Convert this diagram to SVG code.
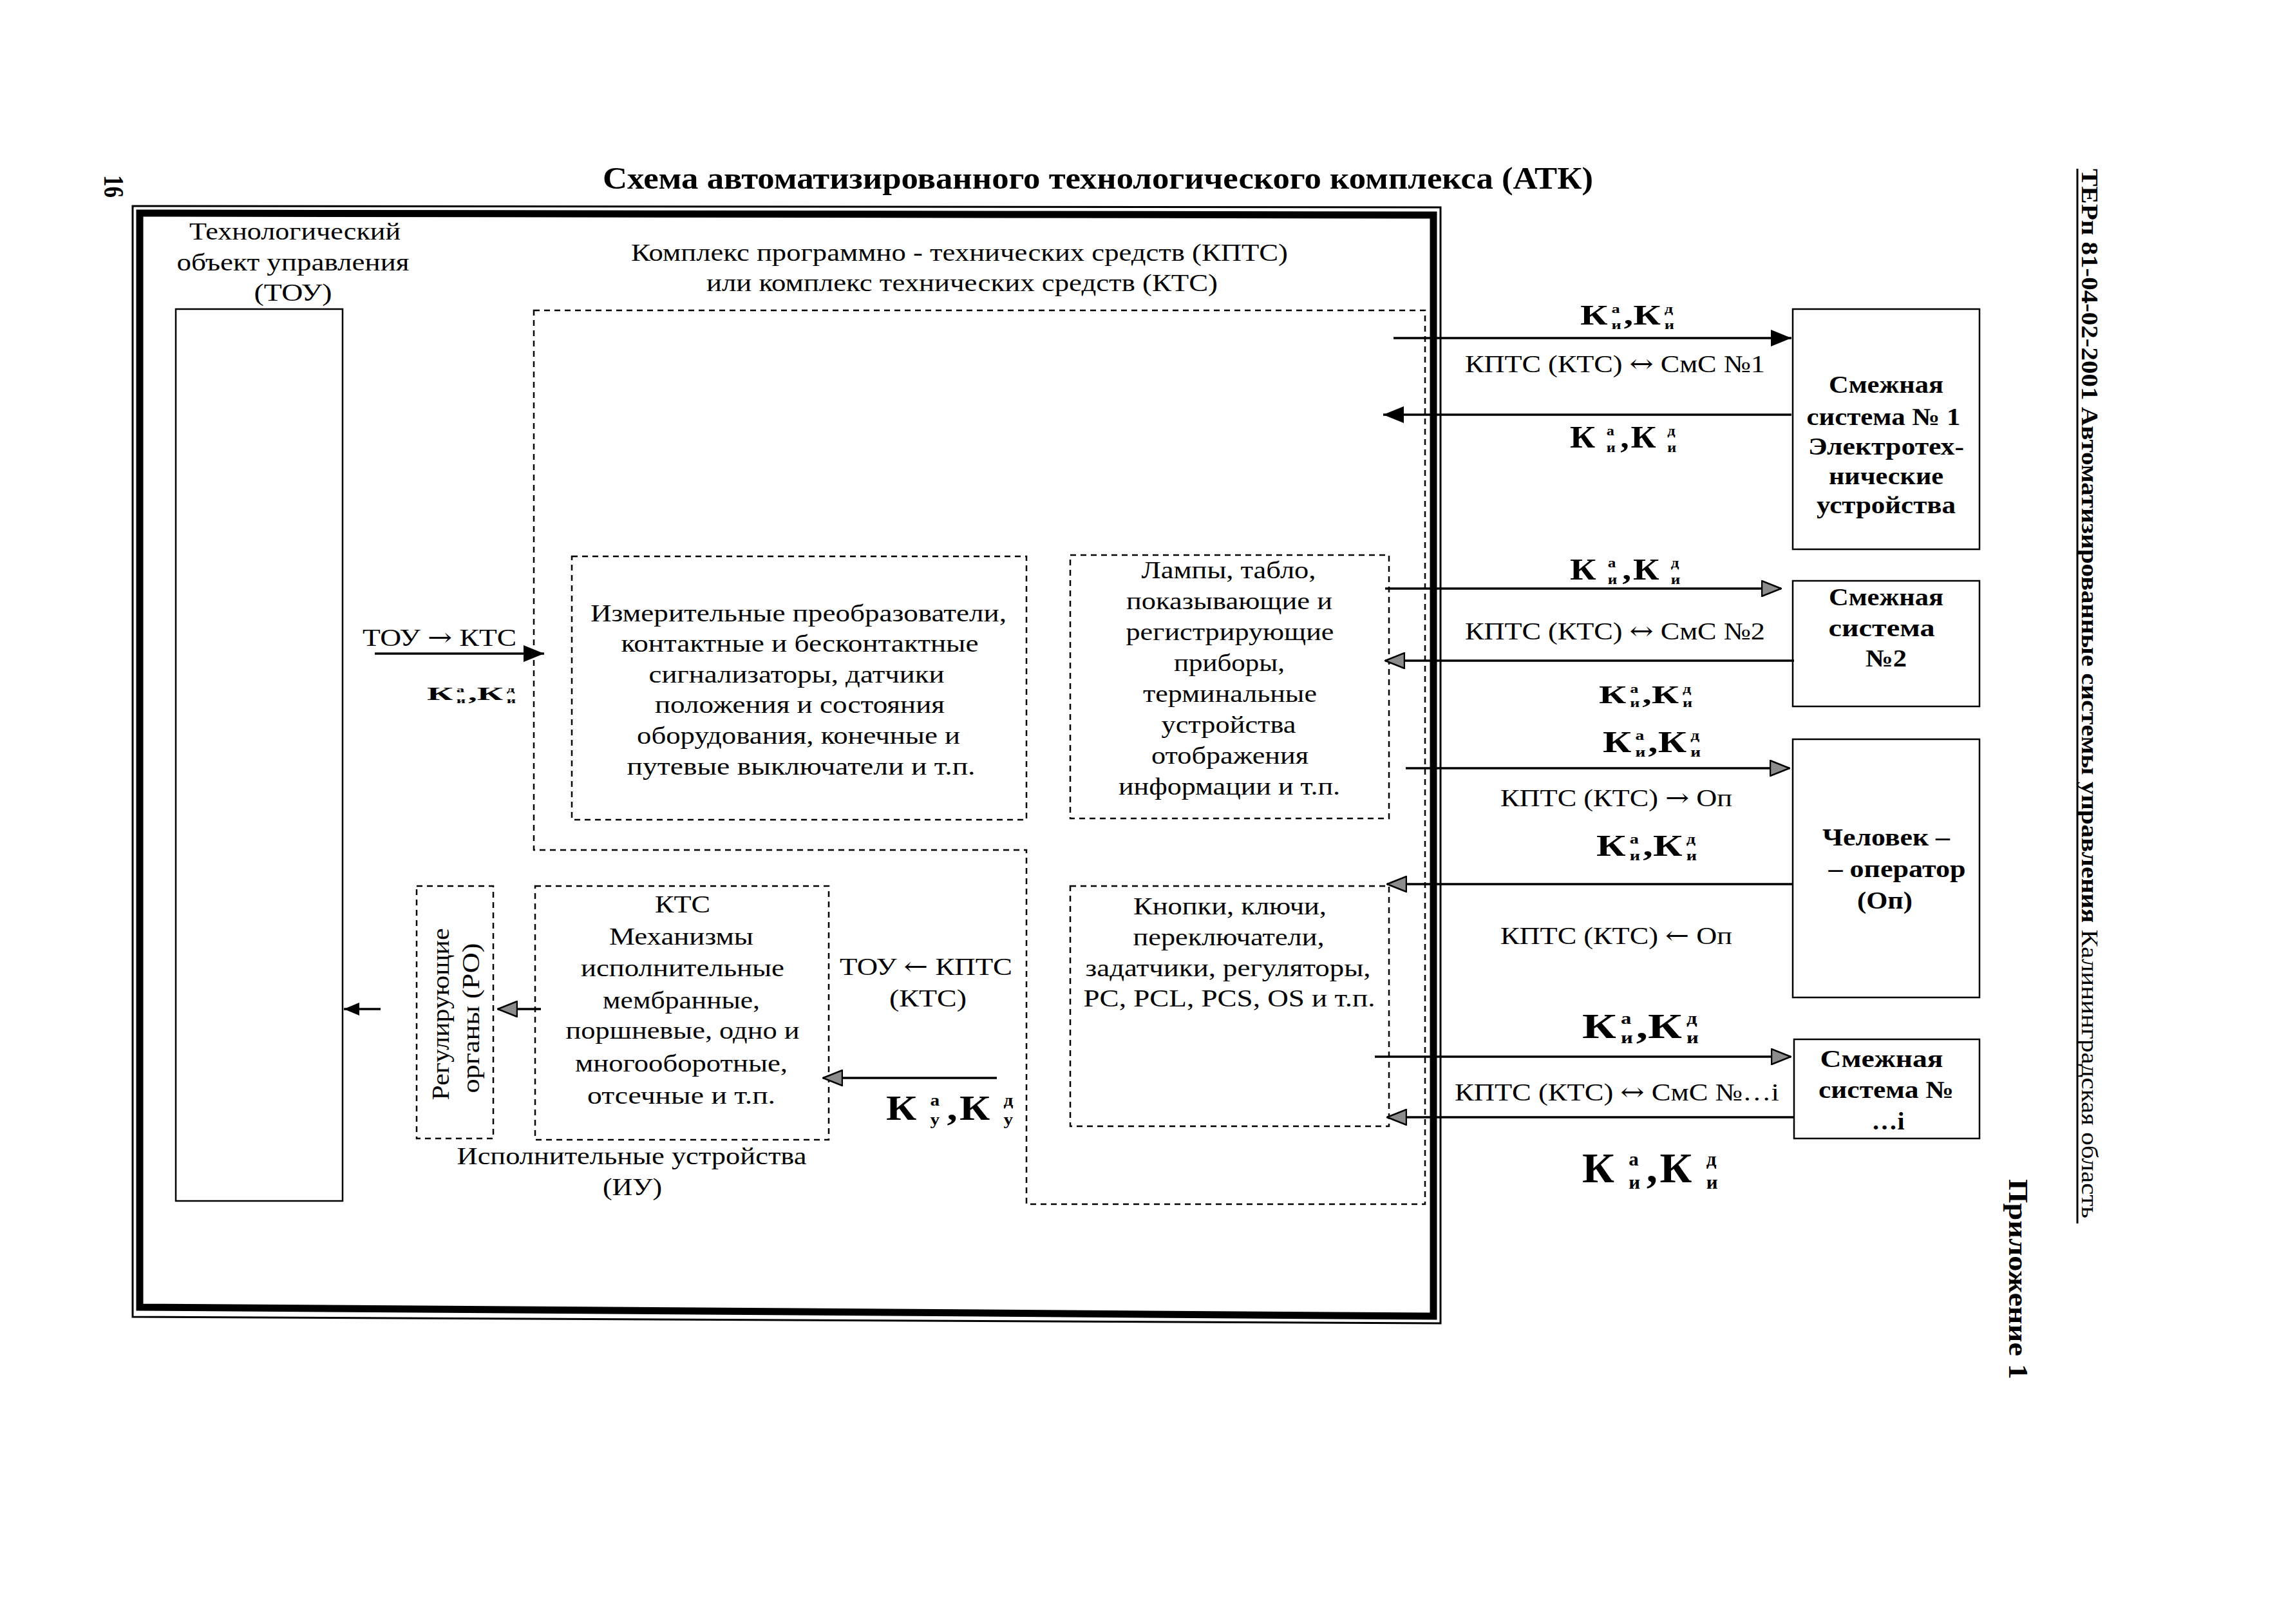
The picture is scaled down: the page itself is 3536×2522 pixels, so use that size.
<svg xmlns="http://www.w3.org/2000/svg" width="3536" height="2522" viewBox="0 0 3536 2522">
<style>
text{font-family:"Liberation Serif","DejaVu Serif",serif;fill:#000}
.t{font-size:38px}
.m{text-anchor:middle}
.b{font-weight:bold}
.ar{font-family:"DejaVu Serif","DejaVu Sans",serif}
.k text{font-weight:bold;font-size:40px}
.k text.s{font-size:18px}
.dash{fill:none;stroke:#000;stroke-width:2.5;stroke-dasharray:9 7}
.solid{fill:none;stroke:#000;stroke-width:2.5}
.arr{fill:none;stroke:#000;stroke-width:3.5}
</style>
<defs>
<marker id="ab" viewBox="0 0 32 26" refX="32" refY="13" markerWidth="32" markerHeight="26" orient="auto" markerUnits="userSpaceOnUse"><path d="M0,0 L32,13 L0,26 Z" fill="#000"/></marker>
<marker id="ag" viewBox="0 0 32 26" refX="31" refY="13" markerWidth="32" markerHeight="26" orient="auto" markerUnits="userSpaceOnUse"><path d="M1,1 L31,13 L1,25 Z" fill="#8c8c8c" stroke="#000" stroke-width="2.5"/></marker>
<marker id="as" viewBox="0 0 24 20" refX="24" refY="10" markerWidth="24" markerHeight="20" orient="auto" markerUnits="userSpaceOnUse"><path d="M0,0 L24,10 L0,20 Z" fill="#000"/></marker>
</defs>
<rect width="3536" height="2522" fill="#fff"/>

<g id="page">
<text class="b" font-size="44" transform="translate(162,272) rotate(90)" textLength="35" lengthAdjust="spacingAndGlyphs">16</text>
<text class="b m" font-size="48" x="1705" y="293" textLength="1538" lengthAdjust="spacingAndGlyphs">Схема автоматизированного технологического комплекса (АТК)</text>
<text font-size="36" transform="translate(3233,262) rotate(90)" textLength="1630" lengthAdjust="spacingAndGlyphs"><tspan font-weight="bold">ТЕРп 81-04-02-2001 Автоматизированные системы управления</tspan> Калининградская область</text>
<line x1="3226" y1="262" x2="3226" y2="1900" stroke="#000" stroke-width="3"/>
<text class="b" font-size="42" transform="translate(3120,1831) rotate(90)" textLength="311" lengthAdjust="spacingAndGlyphs">Приложение 1</text>
<polygon points="206,320 2237,322 2237,2055 206,2045" fill="none" stroke="#000" stroke-width="3"/>
<polygon points="217,331 2226,334 2226,2044 217,2030" fill="none" stroke="#000" stroke-width="11"/>
</g>

<g id="tou">
<rect class="solid" x="273" y="480" width="259" height="1385"/>
<text class="t m" x="458" y="372" textLength="328" lengthAdjust="spacingAndGlyphs">Технологический</text>
<text class="t m" x="455" y="420" textLength="361" lengthAdjust="spacingAndGlyphs">объект управления</text>
<text class="t m" x="455" y="467" textLength="121" lengthAdjust="spacingAndGlyphs">(ТОУ)</text>
</g>

<g id="kpts">
<path class="dash" d="M829,482 H2213 V1870 H1594 V1320 H829 Z"/>
<text class="t m" x="1490" y="405" textLength="1020" lengthAdjust="spacingAndGlyphs">Комплекс программно - технических средств (КПТС)</text>
<text class="t m" x="1494" y="452" textLength="794" lengthAdjust="spacingAndGlyphs">или комплекс технических средств (КТС)</text>
</g>

<g id="izm">
<rect class="dash" x="888" y="864" width="706" height="409"/>
<text class="t m" x="1240" y="965" textLength="646" lengthAdjust="spacingAndGlyphs">Измерительные преобразователи,</text>
<text class="t m" x="1242" y="1012" textLength="555" lengthAdjust="spacingAndGlyphs">контактные и бесконтактные</text>
<text class="t m" x="1237" y="1060" textLength="459" lengthAdjust="spacingAndGlyphs">сигнализаторы, датчики</text>
<text class="t m" x="1242" y="1107" textLength="450" lengthAdjust="spacingAndGlyphs">положения и состояния</text>
<text class="t m" x="1240" y="1155" textLength="502" lengthAdjust="spacingAndGlyphs">оборудования, конечные и</text>
<text class="t m" x="1244" y="1203" textLength="541" lengthAdjust="spacingAndGlyphs">путевые выключатели и т.п.</text>
</g>

<g id="lamps">
<rect class="dash" x="1662" y="862" width="495" height="409"/>
<text class="t m" x="1908" y="898" textLength="271" lengthAdjust="spacingAndGlyphs">Лампы, табло,</text>
<text class="t m" x="1909" y="946" textLength="320" lengthAdjust="spacingAndGlyphs">показывающие и</text>
<text class="t m" x="1910" y="994" textLength="323" lengthAdjust="spacingAndGlyphs">регистрирующие</text>
<text class="t m" x="1909" y="1042" textLength="172" lengthAdjust="spacingAndGlyphs">приборы,</text>
<text class="t m" x="1910" y="1090" textLength="270" lengthAdjust="spacingAndGlyphs">терминальные</text>
<text class="t m" x="1908" y="1138" textLength="209" lengthAdjust="spacingAndGlyphs">устройства</text>
<text class="t m" x="1910" y="1186" textLength="244" lengthAdjust="spacingAndGlyphs">отображения</text>
<text class="t m" x="1909" y="1234" textLength="344" lengthAdjust="spacingAndGlyphs">информации и т.п.</text>
</g>

<g id="knopki">
<rect class="dash" x="1662" y="1376" width="495" height="373"/>
<text class="t m" x="1910" y="1420" textLength="300" lengthAdjust="spacingAndGlyphs">Кнопки, ключи,</text>
<text class="t m" x="1908" y="1468" textLength="297" lengthAdjust="spacingAndGlyphs">переключатели,</text>
<text class="t m" x="1907" y="1516" textLength="443" lengthAdjust="spacingAndGlyphs">задатчики, регуляторы,</text>
<text class="t m" x="1909" y="1563" textLength="453" lengthAdjust="spacingAndGlyphs">PC, PCL, PCS, OS и т.п.</text>
</g>

<g id="kts">
<rect class="dash" x="831" y="1376" width="456" height="394"/>
<text class="t m" x="1060" y="1417" textLength="86" lengthAdjust="spacingAndGlyphs">КТС</text>
<text class="t m" x="1058" y="1467" textLength="224" lengthAdjust="spacingAndGlyphs">Механизмы</text>
<text class="t m" x="1060" y="1516" textLength="316" lengthAdjust="spacingAndGlyphs">исполнительные</text>
<text class="t m" x="1058" y="1566" textLength="244" lengthAdjust="spacingAndGlyphs">мембранные,</text>
<text class="t m" x="1060" y="1613" textLength="363" lengthAdjust="spacingAndGlyphs">поршневые, одно и</text>
<text class="t m" x="1058" y="1664" textLength="330" lengthAdjust="spacingAndGlyphs">многооборотные,</text>
<text class="t m" x="1058" y="1714" textLength="292" lengthAdjust="spacingAndGlyphs">отсечные и т.п.</text>
</g>

<g id="ro">
<rect class="dash" x="647" y="1376" width="119" height="392"/>
<text class="t m" transform="translate(697,1575) rotate(-90)" textLength="267" lengthAdjust="spacingAndGlyphs">Регулирующие</text>
<text class="t m" transform="translate(744,1581) rotate(-90)" textLength="233" lengthAdjust="spacingAndGlyphs">органы (РО)</text>
</g>

<g id="iu">
<text class="t m" x="981" y="1808" textLength="543" lengthAdjust="spacingAndGlyphs">Исполнительные устройства</text>
<text class="t m" x="982" y="1856" textLength="92" lengthAdjust="spacingAndGlyphs">(ИУ)</text>
</g>

<g id="sms1">
<rect class="solid" x="2784" y="480" width="290" height="373"/>
<text class="t b m" x="2929" y="610" textLength="178" lengthAdjust="spacingAndGlyphs">Смежная</text>
<text class="t b m" x="2925" y="660" textLength="239" lengthAdjust="spacingAndGlyphs">система № 1</text>
<text class="t b m" x="2929" y="706" textLength="242" lengthAdjust="spacingAndGlyphs">Электротех-</text>
<text class="t b m" x="2929" y="752" textLength="178" lengthAdjust="spacingAndGlyphs">нические</text>
<text class="t b m" x="2929" y="797" textLength="216" lengthAdjust="spacingAndGlyphs">устройства</text>
</g>

<g id="sms2">
<rect class="solid" x="2784" y="902" width="290" height="195"/>
<text class="t b m" x="2929" y="940" textLength="178" lengthAdjust="spacingAndGlyphs">Смежная</text>
<text class="t b m" x="2922" y="988" textLength="165" lengthAdjust="spacingAndGlyphs">система</text>
<text class="t b m" x="2929" y="1035" textLength="64" lengthAdjust="spacingAndGlyphs">№2</text>
</g>

<g id="operator">
<rect class="solid" x="2784" y="1148" width="290" height="401"/>
<text class="t b m" x="2929" y="1313" textLength="198" lengthAdjust="spacingAndGlyphs">Человек –</text>
<text class="t b m" x="2946" y="1362" textLength="213" lengthAdjust="spacingAndGlyphs">– оператор</text>
<text class="t b m" x="2927" y="1411" textLength="86" lengthAdjust="spacingAndGlyphs">(Оп)</text>
</g>

<g id="smsi">
<rect class="solid" x="2786" y="1614" width="288" height="154"/>
<text class="t b m" x="2922" y="1657" textLength="191" lengthAdjust="spacingAndGlyphs">Смежная</text>
<text class="t b m" x="2929" y="1705" textLength="210" lengthAdjust="spacingAndGlyphs">система №</text>
<text class="t b m" x="2932" y="1754" textLength="51" lengthAdjust="spacingAndGlyphs">…i</text>
</g>

<g id="connectors">
<path class="arr" d="M2164,525 H2782" marker-end="url(#ab)"/>
<path class="arr" d="M2782,644 H2148" marker-end="url(#ab)"/>
<path class="arr" d="M2151,914 H2766" marker-end="url(#ag)"/>
<path class="arr" d="M2786,1026 H2151" marker-end="url(#ag)"/>
<path class="arr" d="M2183,1193 H2779" marker-end="url(#ag)"/>
<path class="arr" d="M2784,1373 H2154" marker-end="url(#ag)"/>
<path class="arr" d="M2135,1641 H2781" marker-end="url(#ag)"/>
<path class="arr" d="M2787,1735 H2154" marker-end="url(#ag)"/>
<path class="arr" d="M582,1015 H845" marker-end="url(#ab)"/>
<path class="arr" d="M1548,1674 H1278" marker-end="url(#ag)"/>
<path class="arr" d="M840,1567 H773" marker-end="url(#ag)"/>
<path class="arr" d="M591,1567 H534" marker-end="url(#as)"/>
</g>

<g id="connector-labels">
<text class="t" x="2275" y="578" textLength="466" lengthAdjust="spacingAndGlyphs">КПТС (КТС) <tspan class="ar">↔</tspan> СмС №1</text>
<text class="t" x="2275" y="993" textLength="466" lengthAdjust="spacingAndGlyphs">КПТС (КТС) <tspan class="ar">↔</tspan> СмС №2</text>
<text class="t" x="2330" y="1252" textLength="360" lengthAdjust="spacingAndGlyphs">КПТС (КТС) <tspan class="ar">→</tspan> Оп</text>
<text class="t" x="2330" y="1466" textLength="360" lengthAdjust="spacingAndGlyphs">КПТС (КТС) <tspan class="ar">←</tspan> Оп</text>
<text class="t" x="2259" y="1709" textLength="504" lengthAdjust="spacingAndGlyphs">КПТС (КТС) <tspan class="ar">↔</tspan> СмС №…i</text>
<text class="t" x="563" y="1003" textLength="239" lengthAdjust="spacingAndGlyphs">ТОУ <tspan class="ar">→</tspan> КТС</text>
<text class="t m" x="1438" y="1514" textLength="268" lengthAdjust="spacingAndGlyphs">ТОУ <tspan class="ar">←</tspan> КПТС</text>
<text class="t m" x="1441" y="1563" textLength="120" lengthAdjust="spacingAndGlyphs">(КТС)</text>

<g class="k" transform="translate(2454,504) scale(1.47,1.1)"><text x="0" y="0">К</text><text class="s" x="33" y="-16">а</text><text class="s" x="33" y="6">и</text><text x="46" y="0">,</text><text x="56" y="0">К</text><text class="s" x="89" y="-16">д</text><text class="s" x="89" y="6">и</text></g>
<g class="k" transform="translate(2438,695) scale(1.35,1.2)"><text x="0" y="0">К</text><text class="s" x="42" y="-16">а</text><text class="s" x="42" y="6">и</text><text x="58" y="0">,</text><text x="70" y="0">К</text><text class="s" x="112" y="-16">д</text><text class="s" x="112" y="6">и</text></g>
<g class="k" transform="translate(2438,900) scale(1.4,1.17)"><text x="0" y="0">К</text><text class="s" x="42" y="-16">а</text><text class="s" x="42" y="6">и</text><text x="58" y="0">,</text><text x="70" y="0">К</text><text class="s" x="112" y="-16">д</text><text class="s" x="112" y="6">и</text></g>
<g class="k" transform="translate(2483,1092) scale(1.46,1.02)"><text x="0" y="0">К</text><text class="s" x="33" y="-16">а</text><text class="s" x="33" y="6">и</text><text x="46" y="0">,</text><text x="56" y="0">К</text><text class="s" x="89" y="-16">д</text><text class="s" x="89" y="6">и</text></g>
<g class="k" transform="translate(2489,1168) scale(1.53,1.17)"><text x="0" y="0">К</text><text class="s" x="33" y="-16">а</text><text class="s" x="33" y="6">и</text><text x="46" y="0">,</text><text x="56" y="0">К</text><text class="s" x="89" y="-16">д</text><text class="s" x="89" y="6">и</text></g>
<g class="k" transform="translate(2479,1329) scale(1.57,1.17)"><text x="0" y="0">К</text><text class="s" x="33" y="-16">а</text><text class="s" x="33" y="6">и</text><text x="46" y="0">,</text><text x="56" y="0">К</text><text class="s" x="89" y="-16">д</text><text class="s" x="89" y="6">и</text></g>
<g class="k" transform="translate(2457,1612) scale(1.82,1.36)"><text x="0" y="0">К</text><text class="s" x="33" y="-16">а</text><text class="s" x="33" y="6">и</text><text x="46" y="0">,</text><text x="56" y="0">К</text><text class="s" x="89" y="-16">д</text><text class="s" x="89" y="6">и</text></g>
<g class="k" transform="translate(2457,1836) scale(1.72,1.62)"><text x="0" y="0">К</text><text class="s" x="42" y="-16">а</text><text class="s" x="42" y="6">и</text><text x="58" y="0">,</text><text x="70" y="0">К</text><text class="s" x="112" y="-16">д</text><text class="s" x="112" y="6">и</text></g>
<g class="k" transform="translate(663,1087) scale(1.39,0.75)"><text x="0" y="0">К</text><text class="s" x="33" y="-16">а</text><text class="s" x="33" y="6">и</text><text x="46" y="0">,</text><text x="56" y="0">К</text><text class="s" x="89" y="-16">д</text><text class="s" x="89" y="6">и</text></g>
<g class="k" transform="translate(1376,1739) scale(1.63,1.36)"><text x="0" y="0">К</text><text class="s" x="42" y="-16">а</text><text class="s" x="42" y="6">у</text><text x="58" y="0">,</text><text x="70" y="0">К</text><text class="s" x="112" y="-16">д</text><text class="s" x="112" y="6">у</text></g>
</g>
</svg>
